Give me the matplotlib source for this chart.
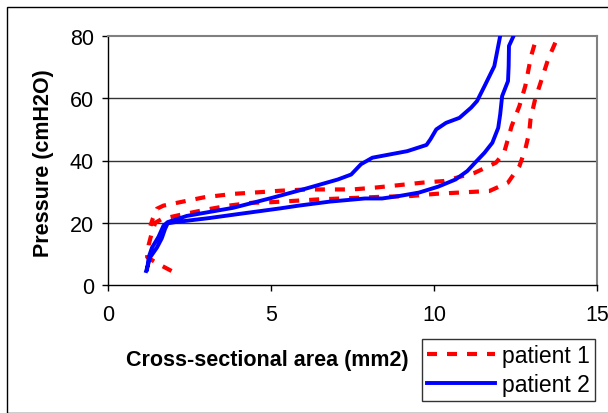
import matplotlib.pyplot as plt
from matplotlib.patches import Rectangle

plt.rcParams['font.family'] = ['Liberation Sans', 'DejaVu Sans']

# patient 1: inflation branch then deflation branch (points above 80 are clipped)
p1_area = [1.95, 1.5, 1.2, 1.25, 1.35, 1.45, 1.65, 2.2, 3.0, 3.7, 4.4, 5.0, 6.45, 7.16,
           8.3, 9.3, 10.07, 10.78, 11.7, 12.27, 12.62, 12.8, 12.92, 12.96, 13.1, 13.27,
           13.5, 13.81, 13.95, 13.3, 13.16, 12.98, 12.8, 12.62, 12.38, 12.15, 11.9, 11.26,
           10.6, 10.3, 9.66, 8.94, 8.2, 7.5, 6.1, 5.3, 4.63, 3.87, 2.96, 2.3, 1.7, 1.5,
           1.38, 1.3]
p1_pres = [4.5, 7, 9, 13, 17, 20, 21.2, 22.5, 24.2, 25.5, 26.4, 26.6, 27.5, 27.8,
           28.3, 28.6, 29.3, 29.7, 30.2, 32.9, 38.2, 43.6, 48.9, 53.2, 59.6, 65,
           72.5, 80, 85, 85, 80, 73.6, 63.9, 57.5, 51, 42.5, 39.3, 36.1,
           34.2, 33.4, 32.9, 32.1, 31.3, 30.7, 30.7, 30.3, 29.8, 29.3, 28.2, 26.8, 25.5, 24.5,
           21.5, 19]

p2_area = [1.17, 1.3, 1.5, 1.65, 1.75, 1.83, 2.06, 3.1, 4.0, 5.27, 5.85, 6.81, 7.88, 8.41,
           8.94, 9.54, 10.13, 10.66, 11.02, 11.26, 11.55, 11.79, 11.97, 12.03, 12.09, 12.27,
           12.29, 12.3, 12.44, 12.55, 12.15, 12.03, 11.85, 11.55, 11.32, 11.14, 10.78, 10.37,
           10.07, 9.89, 9.77, 9.18, 8.11, 7.76, 7.46, 7.05, 5.98, 5.03, 3.84, 2.42, 1.83,
           1.7, 1.55, 1.35, 1.25, 1.2]
p2_pres = [4.5, 9, 12, 15, 18, 19.8, 20.2, 21.5, 22.8, 24.6, 25.5, 26.8, 27.8, 27.8,
           28.6, 29.7, 31.6, 33.9, 36.6, 39.3, 42.5, 45.7, 50.5, 54.8, 60.7, 65.5,
           70.3, 76.8, 80, 85, 85, 80, 70.3, 63.9, 59.1, 57, 53.7, 52.1,
           50, 46.8, 45, 43, 40.9, 38.8, 35.5, 33.9, 30.7, 28, 24.8, 22.2, 20.2,
           19, 15.5, 12, 9, 5]

x_ticks = [0, 5, 10, 15]
y_ticks = [0, 20, 40, 60, 80]

fig = plt.figure(figsize=(6.08, 4.14), dpi=100)
ax = fig.add_axes([108/608, 1 - 286/414, (597 - 108)/608, (286 - 37)/414])

# outer chart frame
fig.patches.append(Rectangle((7/608, 0.0), 1.0, 1 - 8/414, transform=fig.transFigure,
                             fill=False, edgecolor='black', linewidth=1.0))

for yv in [20, 40, 60]:
    ax.axhline(yv, color='#333333', linewidth=1.0, zorder=1)

ax.plot(p1_area, p1_pres, color='#ff0000', linewidth=3.0, dashes=(2.4, 2.4),
        label='patient 1', zorder=3)
ax.plot(p2_area, p2_pres, color='#0000ff', linewidth=2.8, label='patient 2', zorder=4)

ax.set_xlim(0, 15)
ax.set_ylim(0, 80)
ax.set_xticks(x_ticks)
ax.set_yticks(y_ticks)
ax.tick_params(labelsize=15.5, direction='out', length=4, width=1)
ax.tick_params(axis='x', pad=10)
ax.tick_params(axis='y', pad=6)

for side in ['top', 'right']:
    ax.spines[side].set_color('#808080')
    ax.spines[side].set_linewidth(1.5)
for side in ['left', 'bottom']:
    ax.spines[side].set_color('black')
    ax.spines[side].set_linewidth(1.0)

fig.text(44/608, 1 - 163/414, 'Pressure (cmH2O)', fontsize=15.5, fontweight='bold',
         rotation=90, ha='center', va='center')
fig.text(267/608, 1 - 361/414, 'Cross-sectional area (mm2)', fontsize=15.5,
         fontweight='bold', ha='center', va='center')

leg = fig.legend(loc='upper left', bbox_to_anchor=(422/608, 1 - 340/414),
                 fontsize=16.5, frameon=True, fancybox=False, edgecolor='black',
                 handlelength=3.0, borderpad=0.2, labelspacing=0.3,
                 handletextpad=0.3, borderaxespad=0)
leg.get_frame().set_linewidth(1.0)

fig.savefig('out.png', dpi=100)
